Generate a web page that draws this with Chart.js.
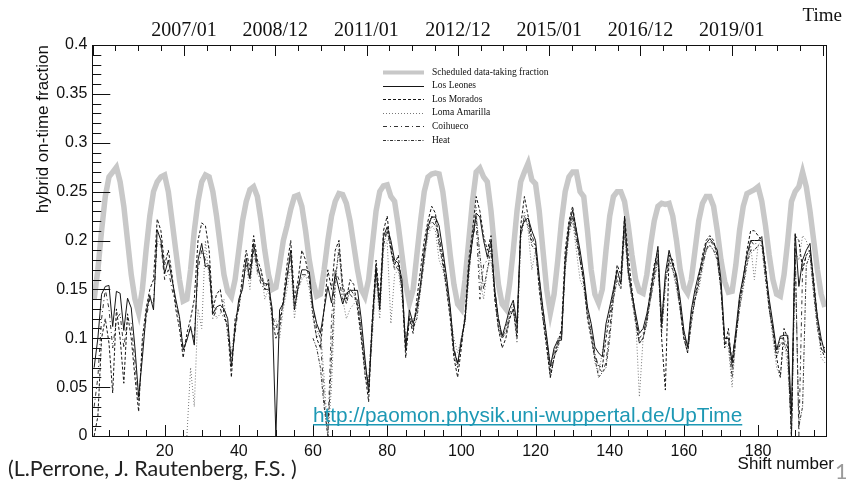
<!DOCTYPE html>
<html>
<head>
<meta charset="utf-8">
<script src="https://cdn.jsdelivr.net/npm/chart.js@4.4.0/dist/chart.umd.min.js"></script>
<style>
  html, body { margin: 0; padding: 0; background: #fff; }
  canvas { display: block; }
</style>
</head>
<body>
<canvas id="uptime" width="846" height="486"></canvas>
<script>
/* ===== Data (one value per shift, shifts 1..198) ===== */
const SCHEDULED = [
  0.14, 0.17, 0.21, 0.245, 0.265, 0.27, 0.275, 0.26, 0.235, 0.2,
  0.165, 0.14, 0.126, 0.15, 0.19, 0.225, 0.25, 0.26, 0.265, 0.267,
  0.25, 0.22, 0.19, 0.16, 0.138, 0.14, 0.17, 0.21, 0.24, 0.26,
  0.267, 0.265, 0.25, 0.225, 0.195, 0.165, 0.148, 0.1425, 0.16, 0.19,
  0.22, 0.24, 0.252, 0.255, 0.245, 0.22, 0.19, 0.165, 0.15, 0.152,
  0.175, 0.2, 0.215, 0.232, 0.245, 0.2465, 0.235, 0.21, 0.18, 0.158,
  0.143, 0.145, 0.17, 0.2, 0.225, 0.24, 0.248, 0.247, 0.238, 0.22,
  0.195, 0.17, 0.15, 0.1425, 0.16, 0.195, 0.23, 0.25, 0.256, 0.257,
  0.245, 0.24, 0.215, 0.185, 0.155, 0.136, 0.15, 0.185, 0.22, 0.25,
  0.265, 0.268, 0.269, 0.268, 0.25, 0.22, 0.185, 0.155, 0.135, 0.13,
  0.16, 0.2, 0.24, 0.27, 0.274, 0.265, 0.26, 0.23, 0.19, 0.155,
  0.135, 0.13, 0.155, 0.19, 0.23, 0.26, 0.27, 0.279, 0.262, 0.258,
  0.23, 0.19, 0.15, 0.126, 0.145, 0.18, 0.22, 0.25, 0.265, 0.27,
  0.27, 0.25, 0.245, 0.21, 0.17, 0.145, 0.136, 0.15, 0.19, 0.225,
  0.245, 0.25, 0.25, 0.24, 0.215, 0.185, 0.16, 0.148, 0.146, 0.165,
  0.195, 0.22, 0.235, 0.238, 0.237, 0.238, 0.225, 0.2, 0.17, 0.152,
  0.146, 0.16, 0.19, 0.22, 0.238, 0.245, 0.245, 0.235, 0.21, 0.18,
  0.158, 0.147, 0.148, 0.175, 0.21, 0.235, 0.248, 0.25, 0.252, 0.255,
  0.24, 0.215, 0.185, 0.16, 0.145, 0.143, 0.165, 0.2, 0.24, 0.25,
  0.255, 0.27, 0.255, 0.23, 0.2, 0.17, 0.145, 0.132
];

const LOS_LEONES = [
  0.07, 0.1, 0.145, 0.153, 0.154, 0.112, 0.148, 0.146, 0.108, 0.141,
  0.131, 0.09, 0.04, 0.08, 0.125, 0.144, 0.129, 0.211, 0.2, 0.166,
  0.18, 0.16, 0.14, 0.122, 0.088, 0.098, 0.112, 0.093, 0.18, 0.197,
  0.173, 0.175, 0.125, 0.132, 0.134, 0.13, 0.12, 0.071, 0.11, 0.14,
  0.15, 0.182, 0.161, 0.197, 0.175, 0.16, 0.156, 0.155, 0.13, 0.0,
  0.129, 0.136, 0.163, 0.19, 0.129, 0.153, 0.17, 0.17, 0.168, 0.132,
  0.115, 0.105, 0.129, 0.153, 0.136, 0.166, 0.15, 0.135, 0.146, 0.149,
  0.149, 0.149, 0.12, 0.08, 0.044, 0.115, 0.173, 0.129, 0.204, 0.214,
  0.2, 0.18, 0.177, 0.16, 0.088, 0.129, 0.115, 0.13, 0.155, 0.19,
  0.214, 0.224, 0.224, 0.215, 0.19, 0.163, 0.132, 0.088, 0.074, 0.098,
  0.119, 0.173, 0.2, 0.228, 0.224, 0.2, 0.183, 0.2, 0.15, 0.12,
  0.102, 0.115, 0.13, 0.139, 0.115, 0.211, 0.22, 0.223, 0.21, 0.2,
  0.163, 0.13, 0.102, 0.071, 0.09, 0.098, 0.098, 0.18, 0.215, 0.231,
  0.211, 0.19, 0.165, 0.132, 0.115, 0.091, 0.085, 0.081, 0.115, 0.132,
  0.15, 0.17, 0.156, 0.224, 0.17, 0.145, 0.125, 0.105, 0.11, 0.125,
  0.146, 0.17, 0.194, 0.115, 0.166, 0.19, 0.175, 0.165, 0.14, 0.108,
  0.091, 0.129, 0.15, 0.166, 0.18, 0.197, 0.202, 0.197, 0.19, 0.16,
  0.1, 0.1, 0.075, 0.108, 0.143, 0.163, 0.185, 0.2, 0.2, 0.2,
  0.204, 0.17, 0.14, 0.115, 0.088, 0.102, 0.103, 0.103, 0.023, 0.207,
  0.153, 0.18, 0.19, 0.197, 0.156, 0.122, 0.1, 0.085
];

const LOS_MORADOS = [
  0.0, 0.02, 0.1, 0.12, 0.095, 0.044, 0.13, 0.1, 0.054, 0.125,
  0.1, 0.06, 0.025, 0.1, 0.13, 0.15, 0.16, 0.222, 0.21, 0.175,
  0.19, 0.165, 0.13, 0.11, 0.08, 0.105, 0.12, 0.14, 0.2, 0.218,
  0.215, 0.19, 0.13, 0.145, 0.15, 0.125, 0.11, 0.06, 0.12, 0.13,
  0.165, 0.19, 0.17, 0.205, 0.18, 0.17, 0.15, 0.16, 0.12, 0.1,
  0.11, 0.14, 0.175, 0.2, 0.14, 0.16, 0.19, 0.18, 0.16, 0.125,
  0.1, 0.09, 0.13, 0.17, 0.15, 0.19, 0.2, 0.155, 0.14, 0.16,
  0.155, 0.13, 0.1, 0.065, 0.035, 0.12, 0.18, 0.14, 0.21, 0.225,
  0.19, 0.175, 0.185, 0.15, 0.08, 0.12, 0.105, 0.14, 0.17, 0.2,
  0.22, 0.235, 0.228, 0.2, 0.18, 0.15, 0.12, 0.08, 0.06, 0.09,
  0.125, 0.18, 0.21, 0.245, 0.23, 0.205, 0.19, 0.205, 0.14, 0.11,
  0.09, 0.1, 0.12, 0.13, 0.1, 0.215, 0.245, 0.225, 0.2, 0.195,
  0.15, 0.12, 0.09, 0.06, 0.08, 0.095, 0.11, 0.19, 0.22, 0.235,
  0.21, 0.18, 0.16, 0.12, 0.1, 0.08, 0.072, 0.07, 0.1, 0.125,
  0.145, 0.175, 0.165, 0.225, 0.185, 0.15, 0.12, 0.095, 0.1, 0.12,
  0.15, 0.175, 0.19, 0.1, 0.047, 0.185, 0.18, 0.16, 0.13, 0.1,
  0.085, 0.12, 0.14, 0.16, 0.185, 0.2, 0.205, 0.2, 0.185, 0.15,
  0.09, 0.11, 0.07, 0.1, 0.14, 0.16, 0.19, 0.21, 0.21, 0.205,
  0.2, 0.175, 0.13, 0.11, 0.08, 0.06, 0.11, 0.1, 0.0, 0.205,
  0.2, 0.17, 0.185, 0.19, 0.16, 0.12, 0.09, 0.08
];

const LOMA_AMARILLA = [
  null, null, null, null, null, null, null, null, null, null,
  null, null, null, null, null, null, null, null, null, null,
  null, null, null, null, null, 0.0, 0.07, 0.03, 0.13, 0.11,
  0.2, 0.16, 0.14, 0.12, 0.125, 0.14, 0.1, 0.085, 0.115, 0.13,
  0.155, 0.175, 0.15, 0.19, 0.165, 0.17, 0.14, 0.15, 0.115, 0.12,
  0.1, 0.13, 0.15, 0.175, 0.12, 0.15, 0.16, 0.165, 0.15, 0.12,
  0.1, 0.11, 0.06, 0.0, 0.05, 0.15, 0.2, 0.14, 0.12, 0.13,
  0.135, 0.14, 0.11, 0.06, 0.05, 0.1, 0.16, 0.12, 0.19, 0.2,
  0.115, 0.165, 0.17, 0.14, 0.1, 0.12, 0.12, 0.125, 0.15, 0.18,
  0.205, 0.215, 0.21, 0.18, 0.17, 0.15, 0.125, 0.1, 0.085, 0.1,
  0.115, 0.16, 0.21, 0.235, 0.16, 0.14, 0.17, 0.18, 0.145, 0.115,
  0.1, 0.11, 0.125, 0.13, 0.095, 0.2, 0.23, 0.21, 0.17, 0.19,
  0.155, 0.125, 0.1, 0.075, 0.085, 0.1, 0.1, 0.17, 0.205, 0.22,
  0.19, 0.16, 0.15, 0.125, 0.105, 0.075, 0.065, 0.085, 0.11, 0.125,
  0.14, 0.16, 0.15, 0.21, 0.165, 0.14, 0.12, 0.04, 0.1, 0.12,
  0.14, 0.165, 0.18, 0.12, 0.16, 0.175, 0.17, 0.15, 0.13, 0.1,
  0.09, 0.12, 0.14, 0.15, 0.17, 0.19, 0.195, 0.19, 0.18, 0.15,
  0.095, 0.09, 0.05, 0.1, 0.13, 0.15, 0.175, 0.195, 0.16, 0.195,
  0.2, 0.17, 0.13, 0.1, 0.07, 0.06, 0.1, 0.07, 0.01, 0.19,
  0.18, 0.205, 0.2, 0.185, 0.15, 0.12, 0.08, 0.075
];

const COIHUECO = [
  0.03, 0.06, 0.12, 0.15, 0.13, 0.09, 0.12, 0.125, 0.09, 0.12,
  0.115, 0.075, 0.035, 0.09, 0.12, 0.14, 0.135, 0.2, 0.195, 0.16,
  0.17, 0.15, 0.135, 0.12, 0.09, 0.1, 0.11, 0.1, 0.17, 0.19,
  0.18, 0.17, 0.12, 0.13, 0.13, 0.12, 0.115, 0.08, 0.105, 0.135,
  0.155, 0.175, 0.16, 0.19, 0.17, 0.155, 0.15, 0.15, 0.125, 0.11,
  0.12, 0.135, 0.16, 0.185, 0.135, 0.15, 0.165, 0.165, 0.16, 0.13,
  0.11, 0.1, 0.04, 0.0, 0.12, 0.17, 0.16, 0.14, 0.14, 0.145,
  0.14, 0.14, 0.11, 0.075, 0.05, 0.11, 0.165, 0.13, 0.2, 0.21,
  0.195, 0.175, 0.17, 0.155, 0.09, 0.125, 0.11, 0.13, 0.155, 0.185,
  0.21, 0.22, 0.215, 0.205, 0.185, 0.16, 0.13, 0.09, 0.075, 0.095,
  0.12, 0.17, 0.2, 0.22, 0.14, 0.175, 0.18, 0.195, 0.15, 0.12,
  0.1, 0.11, 0.125, 0.135, 0.11, 0.205, 0.22, 0.22, 0.205, 0.195,
  0.16, 0.13, 0.1, 0.065, 0.085, 0.095, 0.1, 0.175, 0.21, 0.225,
  0.205, 0.185, 0.16, 0.13, 0.11, 0.085, 0.07, 0.065, 0.075, 0.11,
  0.145, 0.165, 0.155, 0.215, 0.17, 0.145, 0.12, 0.1, 0.105, 0.12,
  0.14, 0.165, 0.185, 0.11, 0.16, 0.185, 0.175, 0.16, 0.135, 0.105,
  0.09, 0.125, 0.145, 0.16, 0.175, 0.19, 0.2, 0.195, 0.185, 0.155,
  0.1, 0.1, 0.08, 0.105, 0.135, 0.16, 0.18, 0.2, 0.195, 0.2,
  0.2, 0.165, 0.135, 0.11, 0.085, 0.1, 0.1, 0.09, 0.0, 0.195,
  0.0, 0.17, 0.185, 0.19, 0.15, 0.115, 0.095, 0.09
];

const HEAT = [
  null, null, null, null, null, null, null, null, null, null,
  null, null, null, null, null, null, null, null, null, null,
  null, null, null, null, null, null, null, null, null, null,
  null, null, null, null, null, null, null, null, null, null,
  null, null, null, null, null, null, null, null, null, null,
  null, null, null, null, null, null, null, null, null, 0.1,
  0.09, 0.07, 0.03, 0.0, 0.08, 0.16, 0.19, 0.15, 0.135, 0.15,
  0.145, 0.135, 0.105, 0.07, 0.055, 0.12, 0.17, 0.135, 0.195, 0.21,
  0.19, 0.17, 0.175, 0.15, 0.095, 0.12, 0.11, 0.12, 0.15, 0.18,
  0.215, 0.225, 0.22, 0.195, 0.175, 0.155, 0.125, 0.085, 0.07, 0.1,
  0.12, 0.165, 0.205, 0.225, 0.185, 0.15, 0.17, 0.19, 0.145, 0.11,
  0.1, 0.105, 0.12, 0.13, 0.105, 0.205, 0.225, 0.215, 0.195, 0.19,
  0.155, 0.12, 0.095, 0.06, 0.08, 0.09, 0.105, 0.17, 0.21, 0.225,
  0.2, 0.18, 0.155, 0.125, 0.105, 0.08, 0.06, 0.065, 0.07, 0.1,
  0.14, 0.16, 0.15, 0.21, 0.165, 0.14, 0.115, 0.095, 0.1, 0.115,
  0.14, 0.16, 0.18, 0.105, 0.155, 0.18, 0.17, 0.155, 0.13, 0.1,
  0.085, 0.115, 0.14, 0.155, 0.175, 0.19, 0.195, 0.19, 0.18, 0.15,
  0.095, 0.095, 0.06, 0.1, 0.13, 0.155, 0.175, 0.19, 0.19, 0.195,
  0.195, 0.16, 0.13, 0.105, 0.08, 0.095, 0.095, 0.085, 0.0, 0.185,
  0.01, 0.03, 0.175, 0.185, 0.145, 0.11, 0.09, 0.085
];

/* ===== Axis ticks and labels ===== */
const X_TICKS     = [20, 40, 60, 80, 100, 120, 140, 160, 180];
const Y_TICKS     = [0, 0.05, 0.1, 0.15, 0.2, 0.25, 0.3, 0.35, 0.4];
const TIME_TICKS  = [25.2, 49.8, 74.4, 99.1, 123.7, 148.3, 172.9];   // in shift units
const TIME_LABELS = ['2007/01', '2008/12', '2011/01', '2012/12', '2015/01', '2016/12', '2019/01'];

const SERIES = [
  { label: 'Scheduled data-taking fraction', data: SCHEDULED,     color: '#c8c8c8', width: 5.5, dash: [],            order: 10 },
  { label: 'Los Leones',                     data: LOS_LEONES,    color: '#151515', width: 1,   dash: [],            order: 1 },
  { label: 'Los Morados',                    data: LOS_MORADOS,   color: '#151515', width: 1,   dash: [3, 2],        order: 2 },
  { label: 'Loma Amarilla',                  data: LOMA_AMARILLA, color: '#777777', width: 1,   dash: [1, 2],        order: 3 },
  { label: 'Coihueco',                       data: COIHUECO,      color: '#333333', width: 1,   dash: [4, 3, 1, 3],  order: 4 },
  { label: 'Heat',                           data: HEAT,          color: '#333333', width: 1,   dash: [3, 1.5, 1, 1.5], order: 5 },
];

Chart.defaults.font.family = '"Liberation Sans", Arial, sans-serif';
Chart.defaults.color = '#111';

/* ===== Frame, inner ticks, legend and page texts (ROOT-like look) ===== */
const rootLook = {
  id: 'rootLook',
  afterDraw(chart) {
    const { ctx, chartArea: a, scales } = chart;
    const xs = scales.x, ys = scales.y;
    ctx.save();
    ctx.strokeStyle = '#111';
    ctx.lineWidth = 1;
    ctx.setLineDash([]);
    ctx.beginPath();
    // y ticks: major every 0.05, minor every 0.01
    for (let i = 0; i <= 40; i++) {
      const py = Math.round(ys.getPixelForValue(i / 100)) + 0.5;
      const len = i % 5 === 0 ? 18 : 9;
      ctx.moveTo(a.left, py); ctx.lineTo(a.left + len, py);
    }
    // bottom ticks: major every 20, minor every 5
    for (let v = 5; v < xs.max; v += 5) {
      const px = Math.round(xs.getPixelForValue(v)) + 0.5;
      const len = v % 20 === 0 ? 11 : 6;
      ctx.moveTo(px, a.bottom); ctx.lineTo(px, a.bottom - len);
    }
    // top (time) ticks: majors plus 4 subdivisions
    const step = (TIME_TICKS[TIME_TICKS.length - 1] - TIME_TICKS[0]) / (TIME_TICKS.length - 1) / 4;
    for (let k = -4; ; k++) {
      const v = TIME_TICKS[0] + k * step;
      if (v >= xs.max) {break;}
      if (v <= xs.min) {continue;}
      const px = Math.round(xs.getPixelForValue(v)) + 0.5;
      const len = k % 4 === 0 ? 11 : 6;
      ctx.moveTo(px, a.top); ctx.lineTo(px, a.top + len);
    }
    ctx.stroke();
    ctx.strokeRect(Math.round(a.left) + 0.5, Math.round(a.top) + 0.5,
                   Math.round(a.right - a.left), Math.round(a.bottom - a.top));

    // legend inside the frame
    ctx.font = '9.5px "Liberation Serif", "Times New Roman", serif';
    ctx.textBaseline = 'middle';
    ctx.textAlign = 'left';
    chart.data.datasets.forEach((ds, i) => {
      const ly = 72 + i * 13.6;
      ctx.strokeStyle = ds.borderColor;
      ctx.lineWidth = i === 0 ? 4 : 1;
      ctx.setLineDash(ds.borderDash || []);
      ctx.beginPath();
      ctx.moveTo(383, Math.round(ly) + 0.5); ctx.lineTo(424, Math.round(ly) + 0.5);
      ctx.stroke();
      ctx.fillStyle = '#111';
      ctx.fillText(ds.label, 432, ly);
    });
    ctx.setLineDash([]);

    // axis titles ROOT puts at the far ends
    ctx.fillStyle = '#111';
    ctx.textAlign = 'right';
    ctx.textBaseline = 'alphabetic';
    ctx.font = '19px "Liberation Serif", "Times New Roman", serif';
    ctx.fillText('Time', 842, 21);
    ctx.font = '17px "Liberation Sans", Arial, sans-serif';
    ctx.fillText('Shift number', 834, 469);

    // link and credits on the slide
    ctx.textAlign = 'left';
    ctx.fillStyle = '#1d98b4';
    ctx.font = '20.8px "Liberation Sans", Arial, sans-serif';
    const url = 'http://paomon.physik.uni-wuppertal.de/UpTime';
    ctx.fillText(url, 313, 422);
    const w = ctx.measureText(url).width;
    ctx.fillRect(313, 424, w, 1.5);

    ctx.fillStyle = '#222';
    ctx.font = '21.5px Lato, "Open Sans", sans-serif';
    ctx.fillText('(L.Perrone, J. Rautenberg, F.S. )', 8, 476);

    ctx.fillStyle = '#9a9a9a';
    ctx.font = '22px Lato, sans-serif';
    ctx.fillText('1', 835, 479);
    ctx.restore();
  }
};

new Chart(document.getElementById('uptime'), {
  type: 'line',
  data: {
    datasets: SERIES.map(s => ({
      label: s.label,
      data: s.data.map((v, i) => ({ x: i + 1, y: v })),
      borderColor: s.color,
      borderWidth: s.width,
      borderDash: s.dash,
      order: s.order,
      fill: false,
      spanGaps: false,
    })),
  },
  options: {
    responsive: false,
    animation: false,
    devicePixelRatio: 1,
    layout: { padding: { left: 29, right: 19.3, top: 0, bottom: 0 } },
    elements: { point: { radius: 0 }, line: { tension: 0, borderJoinStyle: 'miter' } },
    plugins: { legend: { display: false }, tooltip: { enabled: false } },
    scales: {
      x: {
        type: 'linear', position: 'bottom', min: 0.5, max: 198.5,
        afterBuildTicks: s => { s.ticks = X_TICKS.map(v => ({ value: v })); },
        afterFit: s => { s.height = 50; },
        grid: { display: false, drawTicks: false },
        border: { display: false },
        ticks: { font: { size: 16 }, padding: 6, maxRotation: 0, autoSkip: false },
      },
      xTop: {
        type: 'linear', position: 'top', min: 0.5, max: 198.5,
        afterBuildTicks: s => { s.ticks = TIME_TICKS.map(v => ({ value: v })); },
        afterFit: s => { s.height = 45; },
        grid: { display: false, drawTicks: false },
        border: { display: false },
        ticks: {
          font: { size: 20, family: '"Liberation Serif", "Times New Roman", serif' },
          padding: 2, maxRotation: 0, autoSkip: false,
          callback: (v, i) => TIME_LABELS[i],
        },
      },
      y: {
        min: 0, max: 0.4,
        afterBuildTicks: s => { s.ticks = Y_TICKS.map(v => ({ value: v })); },
        afterFit: s => { s.width = 63.3; },
        grid: { display: false, drawTicks: false },
        border: { display: false },
        ticks: { font: { size: 16 }, padding: 5, callback: v => parseFloat(v.toFixed(2)) },
        title: {
          display: true, text: 'hybrid on-time fraction', align: 'end',
          font: { size: 17 }, padding: { top: 4, bottom: 0 },
        },
      },
    },
  },
  plugins: [rootLook],
});
</script>
</body>
</html>
